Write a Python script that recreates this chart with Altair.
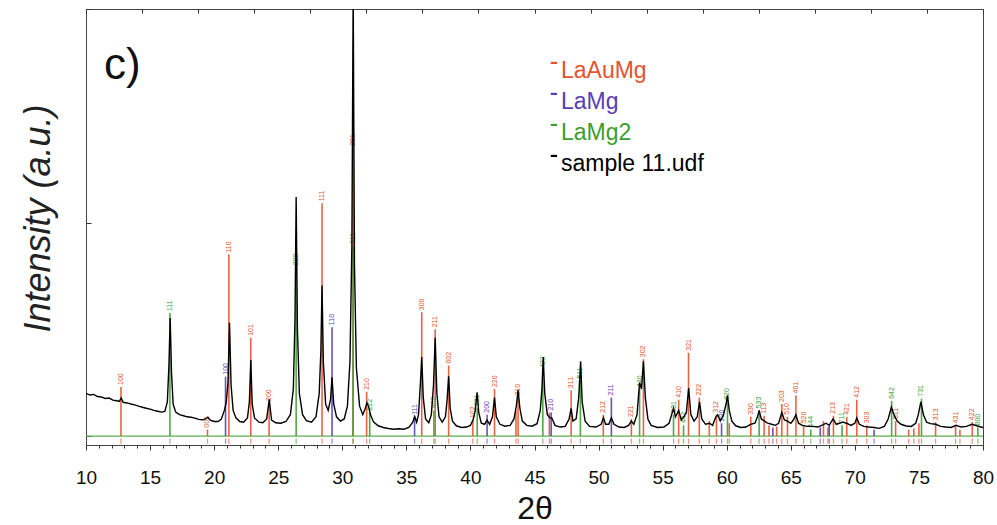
import altair as alt
import pandas as pd

# ---------------- measured sample pattern (2theta, intensity a.u.) ----------------
sample_2theta = [
    10.0, 10.3, 10.6, 10.9, 11.2, 11.5, 11.8, 12.1, 12.4, 12.6, 12.75, 12.9, 13.2, 13.5, 13.8,
    14.1, 14.4, 14.7, 15.0, 15.3, 15.6, 15.9, 16.15, 16.35, 16.47, 16.57, 16.67, 16.8, 17.0,
    17.3, 17.6, 17.9, 18.2, 18.5, 18.8, 19.1, 19.35, 19.5, 19.7, 20.0, 20.3, 20.55, 20.8,
    20.95, 21.08, 21.2, 21.32, 21.48, 21.7, 22.0, 22.3, 22.6, 22.75, 22.86, 22.97, 23.15,
    23.5, 23.8, 24.1, 24.3, 24.48, 24.8, 25.2, 25.6, 25.95, 26.18, 26.31, 26.4, 26.5, 26.65,
    26.9, 27.2, 27.6, 27.95, 28.2, 28.33, 28.42, 28.52, 28.7, 28.9, 29.08, 29.2, 29.33,
    29.55, 29.85, 30.15, 30.4, 30.6, 30.75, 30.85, 30.95, 31.1, 31.35, 31.6, 31.8, 31.92,
    32.05, 32.2, 32.45, 32.8, 33.2, 33.6, 34.0, 34.4, 34.8, 35.2, 35.5, 35.65, 35.8, 35.95,
    36.1, 36.2, 36.32, 36.5, 36.75, 36.95, 37.12, 37.25, 37.38, 37.55, 37.8, 38.05, 38.18,
    38.3, 38.42, 38.6, 38.9, 39.3, 39.7, 40.0, 40.2, 40.38, 40.52, 40.65, 40.85, 41.1, 41.3,
    41.5, 41.72, 41.88, 42.02, 42.3, 42.7, 43.1, 43.4, 43.58, 43.72, 43.86, 44.05, 44.4,
    44.8, 45.2, 45.45, 45.58, 45.68, 45.8, 46.0, 46.2, 46.35, 46.6, 47.0, 47.4, 47.7, 47.86,
    48.0, 48.25, 48.45, 48.6, 48.72, 48.95, 49.3, 49.8, 50.2, 50.38, 50.55, 50.8, 51.0,
    51.2, 51.6, 52.0, 52.35, 52.55, 52.75, 53.0, 53.2, 53.35, 53.5, 53.65, 53.85, 54.1,
    54.6, 55.1, 55.5, 55.7, 55.85, 56.0, 56.25, 56.45, 56.65, 56.85, 57.03, 57.2, 57.45,
    57.7, 57.88, 58.05, 58.35, 58.65, 58.9, 59.15, 59.3, 59.5, 59.75, 59.95, 60.06, 60.2,
    60.4, 60.7, 61.1, 61.5, 61.85, 62.2, 62.4, 62.53, 62.7, 62.95, 63.2, 63.5, 63.8, 64.05,
    64.3, 64.5, 64.75, 65.0, 65.2, 65.4, 65.6, 65.9, 66.3, 66.7, 67.1, 67.5, 67.75, 68.0,
    68.3, 68.55, 68.8, 69.05, 69.35, 69.7, 70.0, 70.15, 70.35, 70.7, 71.1, 71.5, 71.9,
    72.3, 72.6, 72.85, 73.05, 73.3, 73.6, 74.0, 74.4, 74.75, 74.95, 75.15, 75.35, 75.6,
    75.9, 76.3, 76.7, 77.1, 77.5, 77.9, 78.3, 78.7, 79.15, 79.5, 80.0,
]
sample_intensity = [
    0.200, 0.192, 0.195, 0.185, 0.183, 0.176, 0.178, 0.168, 0.165, 0.162, 0.178, 0.158, 0.155, 0.150, 0.146,
    0.140, 0.135, 0.130, 0.126, 0.120, 0.116, 0.112, 0.115, 0.160, 0.330, 0.553, 0.300, 0.150, 0.112,
    0.100, 0.095, 0.090, 0.088, 0.084, 0.078, 0.076, 0.080, 0.088, 0.074, 0.068, 0.068, 0.078, 0.120,
    0.160, 0.250, 0.530, 0.240, 0.120, 0.085, 0.068, 0.065, 0.085, 0.160, 0.356, 0.150, 0.085,
    0.065, 0.062, 0.080, 0.172, 0.075, 0.062, 0.060, 0.068, 0.100, 0.220, 0.550, 1.120, 0.500, 0.200,
    0.100, 0.072, 0.065, 0.090, 0.200, 0.400, 0.705, 0.350, 0.150, 0.120, 0.170, 0.275, 0.150,
    0.090, 0.070, 0.080, 0.140, 0.350, 0.900, 2.100, 0.800, 0.320, 0.140, 0.100, 0.130, 0.155,
    0.140, 0.100, 0.065, 0.048, 0.040, 0.035, 0.032, 0.034, 0.032, 0.040, 0.065, 0.092, 0.065, 0.100,
    0.250, 0.370, 0.180, 0.080, 0.062, 0.100, 0.240, 0.460, 0.200, 0.090, 0.065, 0.090, 0.170,
    0.280, 0.130, 0.070, 0.048, 0.040, 0.042, 0.050, 0.075, 0.120, 0.205, 0.110, 0.060, 0.055, 0.075,
    0.055, 0.090, 0.180, 0.090, 0.055, 0.046, 0.050, 0.080, 0.140, 0.215, 0.130, 0.070, 0.050,
    0.046, 0.058, 0.120, 0.220, 0.370, 0.200, 0.100, 0.085, 0.085, 0.050, 0.042, 0.045, 0.080, 0.130,
    0.070, 0.080, 0.180, 0.350, 0.160, 0.070, 0.045, 0.042, 0.055, 0.085, 0.055, 0.055, 0.085,
    0.055, 0.042, 0.040, 0.050, 0.070, 0.055, 0.100, 0.250, 0.220, 0.350, 0.180, 0.080, 0.050,
    0.040, 0.042, 0.060, 0.100, 0.130, 0.090, 0.120, 0.075, 0.090, 0.110, 0.225, 0.100, 0.070,
    0.090, 0.160, 0.080, 0.055, 0.060, 0.050, 0.090, 0.100, 0.070, 0.100, 0.150, 0.190, 0.120,
    0.070, 0.048, 0.040, 0.042, 0.055, 0.060, 0.090, 0.120, 0.080, 0.070, 0.060, 0.055, 0.050, 0.060,
    0.110, 0.075, 0.070, 0.060, 0.075, 0.100, 0.060, 0.050, 0.045, 0.045, 0.042, 0.052, 0.060, 0.050,
    0.080, 0.055, 0.060, 0.065, 0.060, 0.050, 0.060, 0.085, 0.055, 0.045, 0.042, 0.040, 0.036,
    0.045, 0.080, 0.135, 0.100, 0.070, 0.055, 0.047, 0.045, 0.060, 0.100, 0.160, 0.100, 0.065,
    0.058, 0.055, 0.045, 0.042, 0.040, 0.050, 0.042, 0.045, 0.055, 0.048, 0.040,
]

# ---------------- reference patterns ----------------
laaumg_pos = [12.73, 19.48, 21.15, 22.86, 24.29, 28.42, 30.84, 31.90, 36.20, 37.25, 38.30, 40.19,
              41.88, 43.55, 43.72, 46.16, 47.86, 50.37, 52.56, 53.50, 56.25, 57.02, 57.86, 58.64,
              59.20, 60.20, 61.88, 62.92, 63.30, 63.90, 64.30, 64.74, 65.40, 66.00, 67.55, 67.90,
              68.33, 69.37, 70.15, 70.93, 73.18, 74.20, 74.60, 75.00, 76.30, 77.86, 78.20, 79.16]
laaumg_int = [0.23, 0.03, 0.85, 0.46, 0.155, 1.09, 1.35, 0.207, 0.58, 0.50, 0.33, 0.075,
              0.22, 0.12, 0.18, 0.11, 0.215, 0.10, 0.08, 0.36, 0.17, 0.39, 0.18, 0.07,
              0.10, 0.06, 0.09, 0.095, 0.05, 0.045, 0.15, 0.09, 0.19, 0.05, 0.07, 0.04,
              0.095, 0.09, 0.17, 0.05, 0.07, 0.03, 0.035, 0.06, 0.065, 0.05, 0.03, 0.065]
laaumg_hkl = ["100", "001", "110", "101", "200", "111", "201", "210", "300", "211", "002", "102",
              "220", "", "310", "", "311", "212", "221", "302", "410", "321", "222", "",
              "312", "", "330", "113", "", "", "203", "510", "401", "520", "", "",
              "213", "421", "412", "303", "511", "", "", "", "313", "431", "", "422"]

lamg_pos = [20.89, 29.20, 35.64, 41.30, 46.30, 51.00, 59.60, 63.60, 67.30, 68.00, 71.50]
lamg_int = [0.278, 0.51, 0.09, 0.10, 0.11, 0.18, 0.06, 0.04, 0.04, 0.05, 0.03]
lamg_hkl = ["100", "110", "111", "200", "210", "211", "220", "", "", "", ""]

lamg2_pos = [16.55, 26.40, 30.84, 32.14, 37.15, 40.53, 45.65, 48.58, 53.20, 55.85, 56.63,
             60.06, 62.53, 66.56, 69.00, 72.87, 75.20, 79.60]
lamg2_int = [0.576, 0.79, 0.89, 0.11, 0.12, 0.13, 0.31, 0.26, 0.22, 0.10, 0.05,
             0.16, 0.12, 0.03, 0.05, 0.165, 0.175, 0.04]
lamg2_hkl = ["111", "220", "311", "222", "400", "331", "422", "511", "440", "531", "442",
             "620", "533", "444", "711", "642", "731", "800"]

phase_names = ["LaAuMg", "LaMg", "LaMg2", "sample 11.udf"]
phase_colors = ["#e5532c", "#5b3db6", "#3c9d2f", "#000000"]

# ---------------- tables ----------------
frames = []
for name, p, h, k in [("LaAuMg", laaumg_pos, laaumg_int, laaumg_hkl),
                      ("LaMg", lamg_pos, lamg_int, lamg_hkl),
                      ("LaMg2", lamg2_pos, lamg2_int, lamg2_hkl)]:
    frames.append(pd.DataFrame({"phase": name, "pos": p, "h": h, "hkl": k}))
peaks = pd.concat(frames, ignore_index=True)
peak_labels = peaks[peaks["hkl"] != ""]
sample = pd.DataFrame({"tt": sample_2theta, "I": sample_intensity, "phase": "sample 11.udf"})

FONT = "Liberation Sans"
xs = alt.Scale(domain=[10, 80], nice=False, zero=False)
ys = alt.Scale(domain=[-0.042, 2.0], nice=False, zero=False)
cs = alt.Scale(domain=phase_names, range=phase_colors)

label_color_expr = "scale('color', datum.value)"

legend = alt.Legend(
    title=None, orient="none", legendX=452, legendY=50,
    symbolType="M0.4,-2.4H2.4", symbolSize=40, symbolStrokeWidth=2.2, symbolOpacity=1,
    labelFont=FONT, labelFontSize=23, labelOffset=0, rowPadding=6, labelLimit=400,
    labelColor={"expr": label_color_expr},
)

yaxis = alt.Axis(
    values=[0, 1, 2], labels=False, domain=False, grid=False, tickSize=5, tickColor="#333",
    offset=-5, title="Intensity (a.u.)", titleFont=FONT, titleFontSize=36,
    titleFontStyle="italic", titleFontWeight="normal", titleColor="#222",
    titleX=-53, titleY=209, titleAlign="center", titleBaseline="middle", titleAngle=270,
)

xaxis = alt.Axis(
    values=list(range(10, 81)),
    labelExpr="datum.value % 5 === 0 ? datum.label : ''",
    tickSize={"condition": {"test": "datum.value % 5 === 0", "value": 5}, "value": 3},
    tickColor="#333", domain=False, grid=False, labelOverlap=False, labelFlush=False,
    labelFont=FONT, labelFontSize=19, labelColor="#111", labelPadding=18,
    title="2θ", titleFont=FONT, titleFontSize=32, titleFontWeight="normal", titleColor="#111",
    titleBaseline="alphabetic", titleY=73,
)

top_axis = alt.Axis(
    orient="top", values=[10 + k * 70 / 16 for k in range(17)], labels=False, domain=False,
    grid=False, tickSize=4, offset=-4, tickColor="#333", title=None,
)

baseline = alt.Chart(pd.DataFrame({"b": [0.0]})).mark_rule(
    color="#5fae4f", strokeWidth=1.3
).encode(y=alt.Y("b:Q", scale=ys, axis=yaxis))

below = alt.Chart(peaks).mark_rule(strokeWidth=1.3, opacity=0.6).encode(
    x=alt.X("pos:Q", scale=xs, axis=top_axis),
    y=alt.Y(datum=-0.012),
    y2=alt.Y2(datum=-0.036),
    color=alt.Color("phase:N", scale=cs, legend=legend),
)

sticks = alt.Chart(peaks).mark_rule(strokeWidth=1.6, opacity=0.9).encode(
    x=alt.X("pos:Q", scale=xs, axis=None),
    y=alt.Y("h:Q"),
    y2=alt.Y2(datum=0),
    color=alt.Color("phase:N", scale=cs, legend=legend),
)

labels = alt.Chart(peak_labels).mark_text(
    angle=270, align="left", baseline="middle", dx=2, fontSize=7, font=FONT
).encode(
    x=alt.X("pos:Q", scale=xs, axis=None),
    y=alt.Y("h:Q"),
    text="hkl:N",
    color=alt.Color("phase:N", scale=cs, legend=legend),
)

line = alt.Chart(sample).mark_line(strokeWidth=1.4, clip=True).encode(
    x=alt.X("tt:Q", scale=xs, axis=xaxis),
    y=alt.Y("I:Q"),
    color=alt.Color("phase:N", scale=cs, legend=legend),
)

panel = alt.Chart(pd.DataFrame({"t": ["c)"]})).mark_text(
    fontSize=44, align="left", baseline="alphabetic", font=FONT, color="#111"
).encode(x=alt.value(18), y=alt.value(70), text="t:N")

chart = alt.layer(baseline, below, sticks, labels, line, panel).resolve_axis(
    x="independent"
).properties(
    width=897, height=436,
    autosize=alt.AutoSizeParams(type="none"),
    padding={"left": 86, "top": 9, "right": 14, "bottom": 80},
    background="white",
).configure_view(stroke="#444", strokeWidth=1)

chart.save("out.html", embed_options={"renderer": "svg", "actions": False})
